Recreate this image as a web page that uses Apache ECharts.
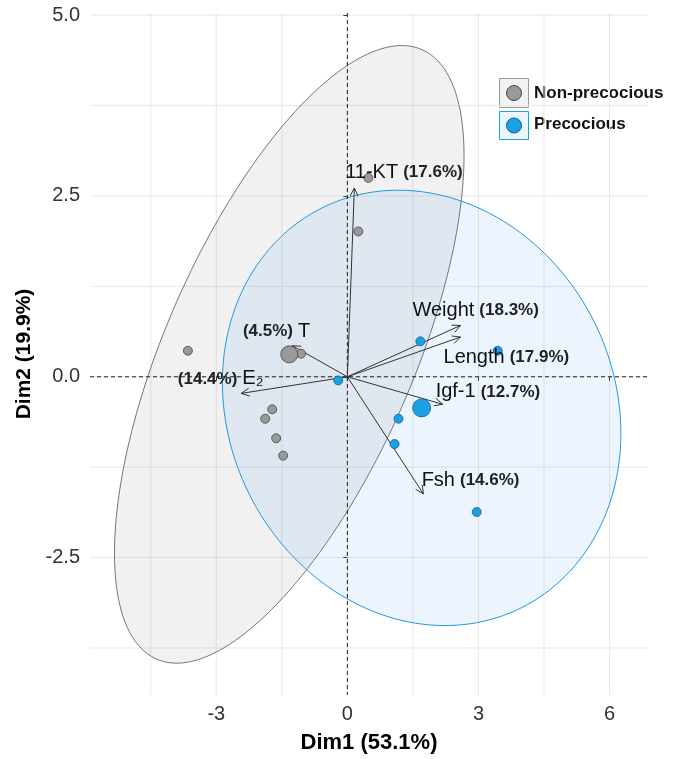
<!DOCTYPE html>
<html><head><meta charset="utf-8">
<script src="https://cdn.jsdelivr.net/npm/echarts@6/dist/echarts.min.js"></script>
<style>html,body{margin:0;padding:0;background:#fff}#c{width:681px;height:759px}</style>
</head><body><div id="c"></div><script>
// ---------- data ----------
const groupNames = ['Non-precocious', 'Precocious'];
const nonPrecociousPts = [[0.48,2.75],[0.25,2.01],[-3.65,0.36],[-1.06,0.32],[-1.88,-0.58],[-1.72,-0.45],[-1.63,-0.85],[-1.47,-1.09]];
const precociousPts = [[-0.21,-0.05],[1.67,0.49],[3.44,0.36],[1.17,-0.58],[1.08,-0.93],[2.96,-1.87]];
const nonPrecociousMean = [[-1.33,0.31]];
const precociousMean = [[1.70,-0.43]];
// confidence ellipses: centre x, centre y, half-extent x, half-extent y, correlation
const ellipseParams = [[-1.33,0.31,4.00,4.27,0.644],[1.70,-0.43,4.56,3.01,-0.117]];
const varNames = ['11-KT','T','E\u2082','Weight','Length','Igf-1','Fsh'];
const varX = [0.16,-1.26,-2.43,2.59,2.59,2.18,1.74];
const varY = [2.61,0.43,-0.23,0.71,0.55,-0.38,-1.62];
const varContrib = [17.6,4.5,14.4,18.3,17.9,12.7,14.6];
const xTicks = [-3,0,3,6];
const yTicks = [-2.5,0,2.5,5];
const xGrid = [-4.5,-3,-1.5,0,1.5,3,4.5,6];
const yGrid = [-3.75,-2.5,-1.25,0,1.25,2.5,3.75,5];

// ---------- layout ----------
const labelAnchor = [[-0.05,2.83],[-2.39,0.63],[-3.88,-0.03],[1.49,0.92],[2.20,0.27],[2.02,-0.21],[1.70,-1.43]];
const pctFirst = [false,true,true,false,false,false,false];
const FONT = '"Liberation Sans", Arial, sans-serif';
const GREY = '#999999', BLUE = '#1BA0E6';

const chart = echarts.init(document.getElementById('c'), null, {renderer:'canvas'});

function gridRender(params, api){
  const cs = params.coordSys; const ch = [];
  xGrid.forEach(v=>{const p=api.coord([v,0]); ch.push({type:'line',shape:{x1:p[0],y1:cs.y,x2:p[0],y2:cs.y+cs.height},style:{stroke:'#e8e8e8',lineWidth:1}});});
  yGrid.forEach(v=>{const p=api.coord([0,v]); ch.push({type:'line',shape:{x1:cs.x,y1:p[1],x2:cs.x+cs.width,y2:p[1]},style:{stroke:'#e8e8e8',lineWidth:1}});});
  return {type:'group',children:ch};
}
function zeroRender(params, api){
  const cs = params.coordSys; const o = api.coord([0,0]);
  const st = {stroke:'#222',lineWidth:1,lineDash:[4,3]};
  return {type:'group',children:[
    {type:'line',shape:{x1:o[0],y1:cs.y,x2:o[0],y2:cs.y+cs.height},style:st},
    {type:'line',shape:{x1:cs.x,y1:o[1],x2:cs.x+cs.width,y2:o[1]},style:st}
  ]};
}
function ellipseRender(params, api){
  const cx=api.value(0), cy=api.value(1), rx=api.value(2), ry=api.value(3), r=api.value(4);
  const pts=[]; const n=180;
  for(let i=0;i<n;i++){const t=2*Math.PI*i/n;
    pts.push(api.coord([cx+rx*Math.cos(t), cy+r*ry*Math.cos(t)+ry*Math.sqrt(1-r*r)*Math.sin(t)]));}
  const grey = params.dataIndex===0;
  return {type:'polygon',shape:{points:pts},style:{
    fill: grey?'rgba(150,150,150,0.13)':'rgba(40,140,230,0.09)',
    stroke: grey?'#767676':'#2398E0', lineWidth:1}};
}
function arrowRender(params, api){
  const o=api.coord([0,0]); const e=api.coord([api.value(0),api.value(1)]);
  const ang=Math.atan2(e[1]-o[1],e[0]-o[0]); const L=9, a=0.45;
  const h1=[e[0]-L*Math.cos(ang-a), e[1]-L*Math.sin(ang-a)];
  const h2=[e[0]-L*Math.cos(ang+a), e[1]-L*Math.sin(ang+a)];
  const st={stroke:'#333',lineWidth:1,fill:null};
  return {type:'group',children:[
    {type:'line',shape:{x1:o[0],y1:o[1],x2:e[0],y2:e[1]},style:st},
    {type:'polyline',shape:{points:[h1,e,h2]},style:st}
  ]};
}
function labelRender(params, api){
  const i=params.dataIndex; const p=api.coord(labelAnchor[i]);
  const name='{n|'+varNames[i]+'}', pct='{p|('+varContrib[i]+'%)}', sp='{s| }';
  return {type:'text',x:p[0],y:p[1],style:{
    text: pctFirst[i]? pct+sp+name : name+sp+pct,
    align:'left', verticalAlign:'middle', fontFamily:FONT,
    rich:{n:{fontSize:20,fill:'#111',fontFamily:FONT},
          s:{fontSize:18,fontFamily:FONT},
          p:{fontSize:17,fontWeight:'bold',fill:'#222',fontFamily:FONT}}
  }};
}

const option = {
  backgroundColor:'#fff',
  animation:false,
  grid:{left:90,right:33,top:13,bottom:61,containLabel:false},
  xAxis:{type:'value',min:-5.89,max:6.88,
    splitLine:{show:false},axisLine:{show:false},
    axisTick:{show:true,customValues:xTicks,length:4,lineStyle:{color:'#333'}},
    axisLabel:{customValues:xTicks,fontSize:20,color:'#333',fontFamily:FONT,margin:9,formatter:v=>String(v)},
    name:'Dim1 (53.1%)',nameLocation:'middle',nameGap:37,
    nameTextStyle:{fontSize:22,fontWeight:'bold',color:'#000',fontFamily:FONT}},
  yAxis:{type:'value',min:-4.40,max:5.03,
    splitLine:{show:false},axisLine:{show:false},
    axisTick:{show:true,customValues:yTicks,length:4,lineStyle:{color:'#333'}},
    axisLabel:{customValues:yTicks,fontSize:20,color:'#333',fontFamily:FONT,margin:10,formatter:v=>v.toFixed(1)},
    name:'Dim2 (19.9%)',nameLocation:'middle',nameGap:54,nameRotate:90,
    nameTextStyle:{fontSize:21,fontWeight:'bold',color:'#000',fontFamily:FONT}},
  series:[
    {type:'custom',name:'grid',silent:true,z:0,data:[[0,0]],renderItem:gridRender},
    {type:'custom',name:'ellipses',silent:true,z:1,data:ellipseParams,renderItem:ellipseRender},
    {type:'custom',name:'zero',silent:true,z:2,data:[[0,0]],renderItem:zeroRender},
    {type:'custom',name:'arrows',silent:true,z:3,data:varX.map((x,i)=>[x,varY[i]]),renderItem:arrowRender},
    {type:'scatter',name:groupNames[0],z:4,symbolSize:9,data:nonPrecociousPts,
      itemStyle:{color:GREY,borderColor:'#444',borderWidth:0.8,opacity:1}},
    {type:'scatter',name:groupNames[1],z:4,symbolSize:9,data:precociousPts,
      itemStyle:{color:BLUE,borderColor:'#0c5f8f',borderWidth:0.8,opacity:1}},
    {type:'scatter',name:groupNames[0]+' mean',z:4,symbolSize:17,data:nonPrecociousMean,
      itemStyle:{color:GREY,borderColor:'#444',borderWidth:0.8,opacity:1}},
    {type:'scatter',name:groupNames[1]+' mean',z:4,symbolSize:18,data:precociousMean,
      itemStyle:{color:BLUE,borderColor:'#0c5f8f',borderWidth:0.8,opacity:1}},
    {type:'custom',name:'labels',silent:true,z:5,data:labelAnchor,renderItem:labelRender}
  ],
  graphic:[
    {type:'rect',shape:{x:499.5,y:78.5,width:29,height:29},style:{fill:'#f2f2f2',stroke:'#9a9a9a',lineWidth:1}},
    {type:'circle',shape:{cx:514,cy:93,r:7.5},style:{fill:GREY,stroke:'#444',lineWidth:1}},
    {type:'text',x:534,y:93,style:{text:groupNames[0],fontSize:17,fontWeight:'bold',fill:'#111',fontFamily:FONT,verticalAlign:'middle'}},
    {type:'rect',shape:{x:499.5,y:111.5,width:29,height:28},style:{fill:'#ebf5fd',stroke:BLUE,lineWidth:1}},
    {type:'circle',shape:{cx:514,cy:125.5,r:7.5},style:{fill:BLUE,stroke:'#0c5f8f',lineWidth:1}},
    {type:'text',x:534,y:124,style:{text:groupNames[1],fontSize:17,fontWeight:'bold',fill:'#111',fontFamily:FONT,verticalAlign:'middle'}}
  ]
};
chart.setOption(option);
</script></body></html>
